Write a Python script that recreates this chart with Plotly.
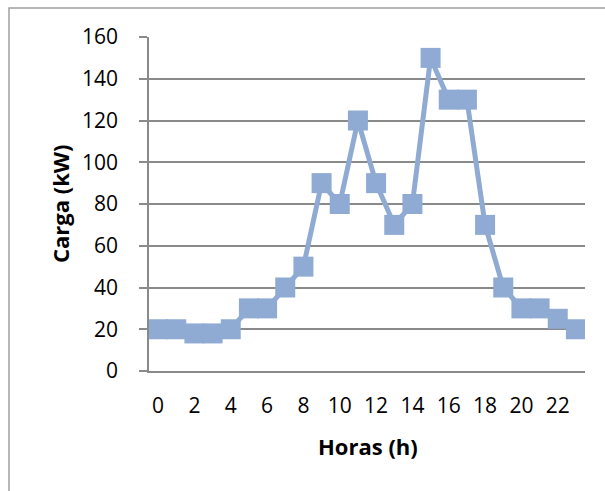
import plotly.graph_objects as go

# Hourly load profile
horas = list(range(24))
carga = [20, 20, 18, 18, 20, 30, 30, 40, 50, 90, 80, 120,
         90, 70, 80, 150, 130, 130, 70, 40, 30, 30, 25, 20]
x_ticks = list(range(0, 24, 2))
y_ticks = list(range(0, 161, 20))

color = "#8FAAD3"
grid = "#8A8A8A"
font = "'Open Sans', sans-serif"

fig = go.Figure()
fig.add_trace(go.Scatter(
    x=horas, y=carga, mode="lines+markers",
    line=dict(color=color, width=5),
    marker=dict(symbol="square", size=20, color=color),
    showlegend=False, hoverinfo="skip",
))

W, H = 605, 491
ml, mr, mt, mb = 149, 20, 37, 120
pw, ph = W - ml - mr, H - mt - mb

def px_x(v):
    return (v - ml) / pw

def px_y(v):
    return 1 - (v - mt) / ph

fig.update_layout(
    width=W, height=H,
    margin=dict(l=ml, r=mr, t=mt, b=mb),
    paper_bgcolor="white", plot_bgcolor="white",
    font=dict(family=font, size=21, color="#000000"),
    xaxis=dict(
        range=[-0.5, 23.5], tickvals=x_ticks, ticktext=[str(t) for t in x_ticks],
        showgrid=False, zeroline=False, showline=True, linecolor=grid, linewidth=1.5,
        ticks="", ticklabelstandoff=15,
    ),
    yaxis=dict(
        range=[0, 160], tickvals=y_ticks,
        showgrid=True, gridcolor=grid, gridwidth=1.5, zeroline=False,
        showline=True, linecolor=grid, linewidth=1.5,
        ticks="outside", ticklen=8, tickcolor=grid, tickwidth=1.5,
        ticklabelstandoff=17,
    ),
    annotations=[
        dict(text="<b>Horas (h)</b>", xref="paper", yref="paper",
             x=px_x(367.5), y=px_y(446), xanchor="center", yanchor="middle",
             showarrow=False, font=dict(family=font, size=22)),
        dict(text="<b>Carga (kW)</b>", xref="paper", yref="paper",
             x=px_x(60), y=px_y(204), xanchor="center", yanchor="middle",
             showarrow=False, textangle=-90,
             font=dict(family=font, size=22)),
    ],
    shapes=[dict(
        type="rect", xref="paper", yref="paper", layer="above",
        x0=px_x(9), x1=px_x(640), y0=px_y(520), y1=px_y(8),
        line=dict(color="#A0A0A0", width=1.5), fillcolor="rgba(0,0,0,0)",
    )],
)

fig.write_html("out.html")
